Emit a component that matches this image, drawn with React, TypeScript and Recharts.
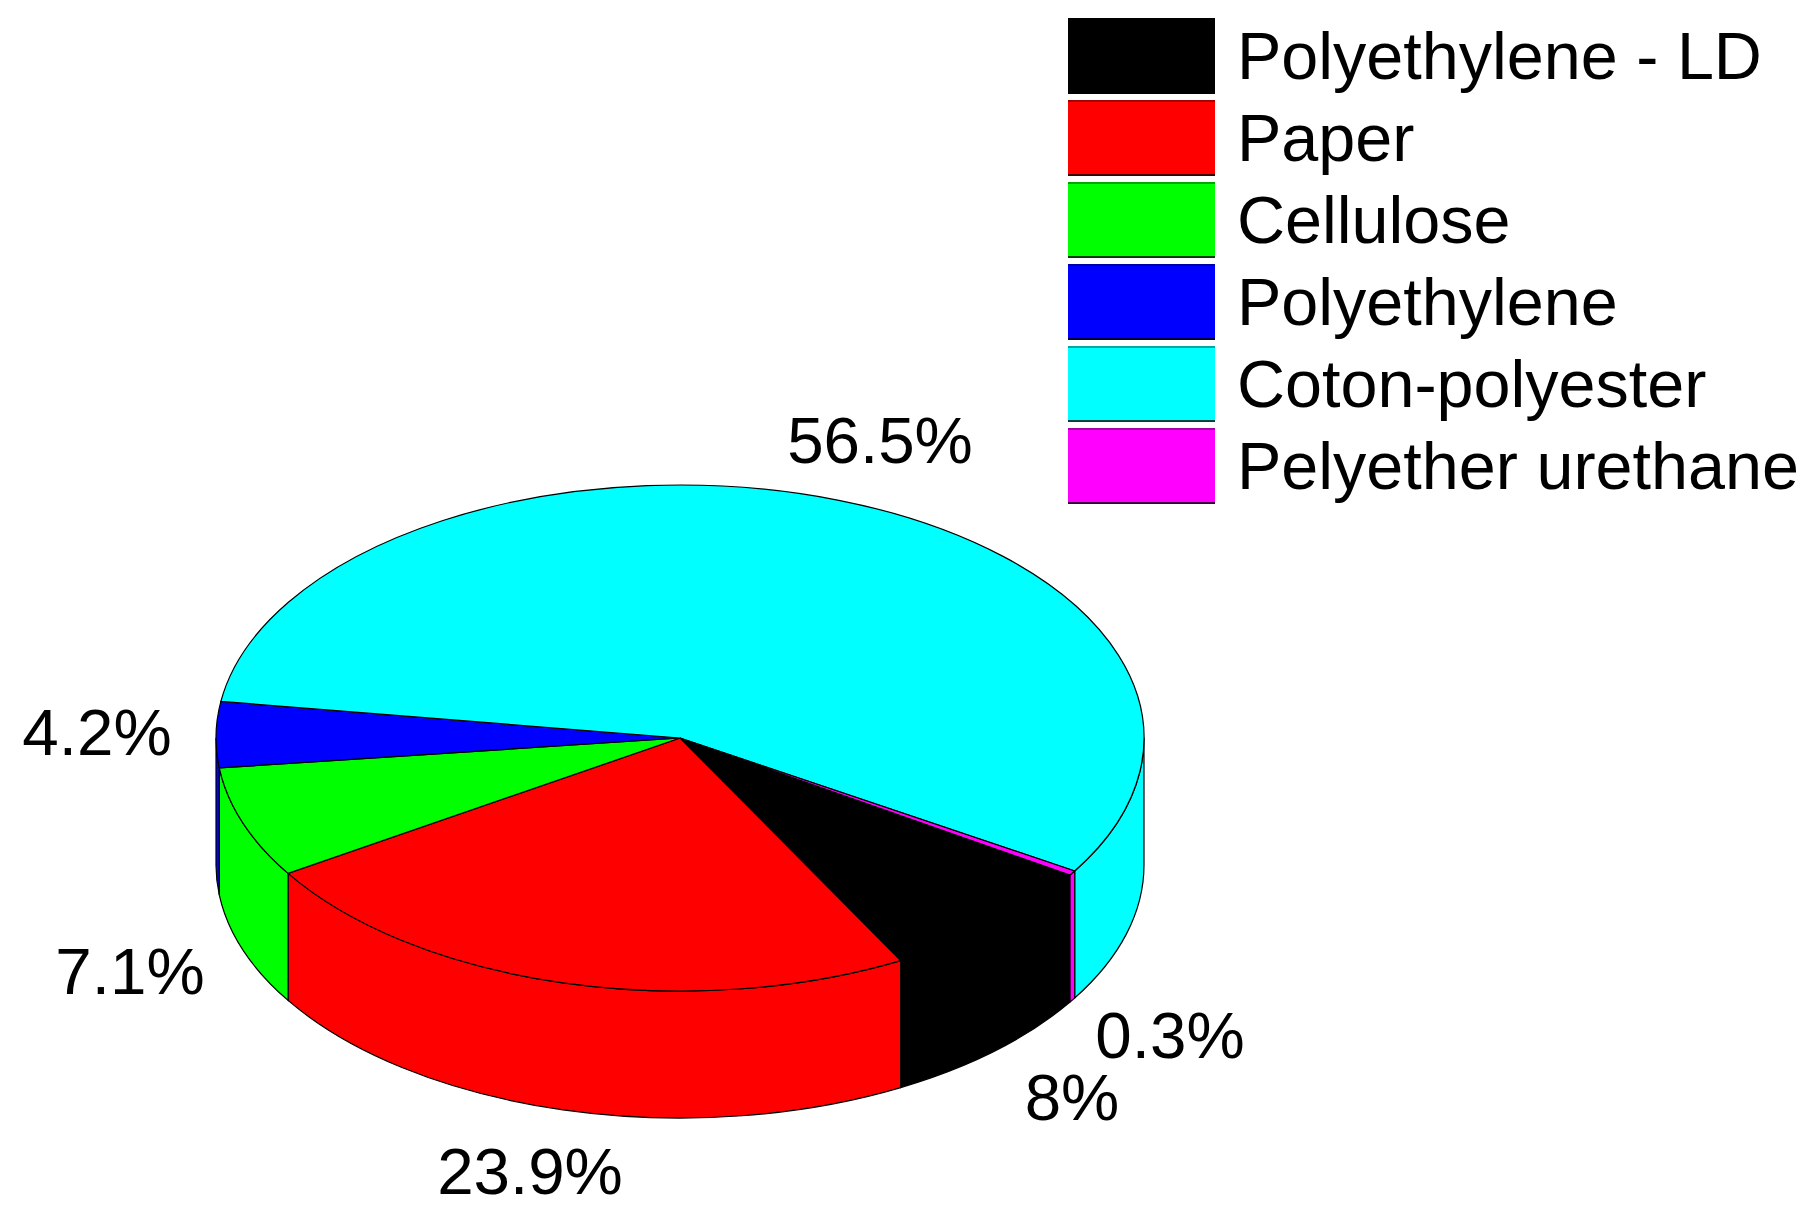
import { Legend, Pie, PieChart } from "recharts";

const materials = ["Polyethylene - LD", "Paper", "Cellulose", "Polyethylene", "Coton-polyester", "Pelyether urethane"];
const shares = [8, 23.9, 7.1, 4.2, 56.5, 0.3];
const colors = ["#000000", "#ff0000", "#00ff00", "#0000ff", "#00ffff", "#ff00ff"];

const data = materials.map((name, i) => ({ name, value: shares[i], fill: colors[i] }));

// where the percent labels sit, the picture has no leader lines
const labelSpots: Record<string, [number, number]> = {
  "Polyethylene - LD": [1072, 1097],
  Paper: [530, 1171],
  Cellulose: [130, 971],
  Polyethylene: [97, 732],
  "Coton-polyester": [880, 440],
  "Pelyether urethane": [1170, 1035],
};

const FONT = '"Liberation Sans", Arial, sans-serif';
const SQUASH = 253 / 464; // top face is an ellipse
const DEPTH = 127;

const PieSlice = (props: any) => {
  const { cx, cy, outerRadius, startAngle, endAngle, fill } = props;
  const rx = outerRadius;
  const ry = outerRadius * SQUASH;
  const pt = (deg: number, drop = 0) => {
    const a = (deg * Math.PI) / 180;
    return `${cx + rx * Math.cos(a)} ${cy - ry * Math.sin(a) + drop}`;
  };
  const large = Math.abs(endAngle - startAngle) > 180 ? 1 : 0;

  // side wall only shows on the front half of the rim
  const walls: string[] = [];
  [0, -360].forEach((k) => {
    const hi = Math.min(startAngle, k);
    const lo = Math.max(endAngle, k - 180);
    if (hi > lo) {
      walls.push(
        `M${pt(hi)} A${rx} ${ry} 0 0 1 ${pt(lo)} L${pt(lo, DEPTH)} A${rx} ${ry} 0 0 0 ${pt(hi, DEPTH)} Z`
      );
    }
  });

  return (
    <g>
      {walls.map((d) => (
        <path key={d} d={d} fill={fill} stroke="#000" strokeWidth={1.2} />
      ))}
      <path
        d={`M${cx} ${cy} L${pt(startAngle)} A${rx} ${ry} 0 ${large} 1 ${pt(endAngle)} Z`}
        fill={fill}
        stroke="#000"
        strokeWidth={1.2}
      />
    </g>
  );
};

const PercentLabel = (props: any) => {
  const [x, y] = labelSpots[props.name];
  return (
    <text x={x} y={y} textAnchor="middle" dominantBaseline="central" fontFamily={FONT} fontSize={65.5} fill="#000">
      {props.value}%
    </text>
  );
};

const MaterialLegend = ({ payload }: any) => (
  <div>
    {(payload || []).map((entry: any) => (
      <div key={entry.value} style={{ display: "flex", alignItems: "center", height: 82 }}>
        <div
          style={{
            width: 147,
            height: 76,
            boxSizing: "border-box",
            background: entry.color,
            borderTop: "2px solid rgba(0,0,0,0.35)",
            borderBottom: "2px solid rgba(0,0,0,0.75)",
          }}
        />
        <span style={{ marginLeft: 22, fontFamily: FONT, fontSize: 66.5, color: "#000", whiteSpace: "nowrap", lineHeight: "82px" }}>
          {entry.value}
        </span>
      </div>
    ))}
  </div>
);

export default function App() {
  return (
    <div style={{ position: "absolute", left: 0, top: 0, width: 1811, height: 1215, background: "#fff" }}>
      <PieChart width={1811} height={1215} margin={{ top: 0, right: 0, bottom: 0, left: 0 }}>
        <Pie
          data={data}
          dataKey="value"
          nameKey="name"
          cx={680}
          cy={738}
          outerRadius={464}
          startAngle={-32.8}
          endAngle={-392.8}
          shape={PieSlice}
          label={PercentLabel}
          labelLine={false}
          isAnimationActive={false}
        />
        <Legend
          layout="vertical"
          itemSorter={null}
          content={<MaterialLegend />}
          wrapperStyle={{ position: "absolute", left: 1068, top: 15, width: 743, bottom: "auto", right: "auto" }}
        />
      </PieChart>
    </div>
  );
}
